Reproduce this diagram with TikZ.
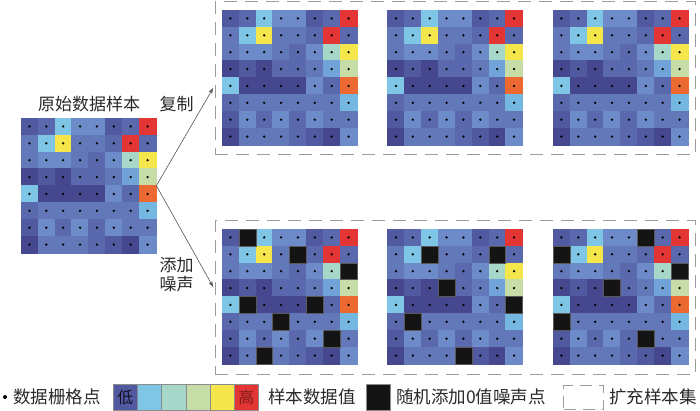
\documentclass[tikz,border=0pt]{standalone}
\usepackage{fontspec}
\setmainfont{Noto Sans CJK SC}
\usetikzlibrary{arrows.meta}
\definecolor{k1}{HTML}{46488F}
\definecolor{k2}{HTML}{5159A0}
\definecolor{k3}{HTML}{5A68AD}
\definecolor{k4}{HTML}{6378B8}
\definecolor{k5}{HTML}{6C8BC8}
\definecolor{k6}{HTML}{72A3D8}
\definecolor{kL}{HTML}{7EC5E6}
\definecolor{kM}{HTML}{74B8E2}
\definecolor{kT}{HTML}{A7D7C9}
\definecolor{kG}{HTML}{C6DDA7}
\definecolor{kY}{HTML}{F5E64B}
\definecolor{kO}{HTML}{EC6A32}
\definecolor{kR}{HTML}{E43535}
\definecolor{txt}{HTML}{2A2A2A}
\definecolor{dashc}{HTML}{9C9C9C}
\definecolor{arrc}{HTML}{555555}
\newcommand{\gridcells}{k2,k3,kL,k5,k5,k2,k3,kR,
k4,kL,kY,k4,k4,k3,kR,k3,
k4,k5,k5,k4,k3,k5,kT,kY,
k1,k2,k1,k3,k3,k4,k6,kG,
kL,k1,k1,k1,k1,k5,k3,kO,
k3,k4,k4,k4,k4,k4,k4,kM,
k2,k5,k3,k5,k3,k5,k4,k4,
k1,k4,k4,k4,k3,k2,k1,k5}
\newcommand{\drawgrid}[2]{%
  \foreach \cc [count=\n from 0] in \gridcells {%
    \pgfmathtruncatemacro\gr{div(\n,8)}%
    \pgfmathtruncatemacro\gc{mod(\n,8)}%
    \path[fill=\cc, draw=\cc, line width=0.3pt] ({#1+\gc*16.875},{#2+\gr*16.875}) rectangle ++(16.875,16.875);%
  }%
  \foreach \gr in {0,...,7}{\foreach \gc in {0,...,7}{%
    \fill[black] ({#1+(\gc+0.5)*16.875},{#2+(\gr+0.5)*16.875}) circle[radius=1.3];}}%
}
\newcommand{\drawnoise}[3]{%
  \foreach \bc/\br in {#3}{%
    \path[noisecell] ({#1+(\bc-1)*16.875},{#2+(\br-1)*16.875}) rectangle ++(16.875,16.875);}%
}
\tikzset{
  noisecell/.style={fill=black!92, draw=black!65, line width=0.5pt},
  gridnode/.style={minimum size=135, inner sep=0, anchor=north west},
  dbox/.style={draw=dashc, line width=1.2pt, dash pattern=on 13pt off 8pt, inner sep=0, anchor=north west},
  conn/.style={draw=arrc, line width=0.6pt, -{Stealth[length=6pt,width=4pt]}},
  lbl/.style={text=txt, inner sep=0, font=\fontsize{17}{20}\selectfont},
  leg/.style={text=txt, inner sep=0, anchor=west, font=\fontsize{17.5}{20}\selectfont},
  legcell/.style={minimum width=24.2, minimum height=26, inner sep=0, anchor=north west, draw=black!45, line width=0.4pt, font=\fontsize{16}{17}\selectfont}
}
\begin{document}
\begin{tikzpicture}[x=1pt,y=-1pt]
\useasboundingbox[fill=white] (0,0) rectangle (700,411);
% dashed boxes
\node[dbox, minimum width=480.3, minimum height=152.8] (topbox) at (214.7,1.2) {};
\node[dbox, minimum width=480.3, minimum height=154] (botbox) at (214.7,220) {};
% grid nodes
\node[gridnode] (orig) at (21,118) {};
\node[gridnode] (t1) at (222,10) {};
\node[gridnode] (t2) at (387.5,10) {};
\node[gridnode] (t3) at (553,10) {};
\node[gridnode] (b1) at (222,229) {};
\node[gridnode] (b2) at (387.5,229) {};
\node[gridnode] (b3) at (553,229) {};
\drawgrid{21}{118}
\drawgrid{222}{10}
\drawgrid{387.5}{10}
\drawgrid{553}{10}
\drawgrid{222}{229}
\drawgrid{387.5}{229}
\drawgrid{553}{229}
\drawnoise{222}{229}{2/1,5/2,8/3,2/5,6/5,4/6,7/7,3/8}
\drawnoise{387.5}{229}{3/2,7/2,4/4,8/5,2/6,5/8}
\drawnoise{553}{229}{6/1,1/2,8/3,4/4,1/6,6/7}
% labels
\node[lbl] (title) at (89,104) {原始数据样本};
\node[lbl] (copy) at (176.5,104) {复制};
\node[lbl] (add1) at (176.5,265) {添加};
\node[lbl] (add2) at (176.5,284) {噪声};
% connectors
\coordinate (tA) at (213.2,88);
\coordinate (tB) at (213.2,287);
\draw[conn] (orig.east) -- (tA);
\draw[conn] (orig.east) -- (tB);
% legend
\fill[black] (5,397) circle[radius=2];
\node[leg] (l1) at (13,397) {数据栅格点};
\node[legcell, fill=k2, text=black!75!k1] (c1) at (113,384) {低};
\node[legcell, fill=kL] (c2) at (137.2,384) {};
\node[legcell, fill=kT] (c3) at (161.4,384) {};
\node[legcell, fill=kG] (c4) at (185.6,384) {};
\node[legcell, fill=kY] (c5) at (209.8,384) {};
\node[legcell, fill=kR, text=black!45!kR] (c6) at (234,384) {高};
\node[leg] (l2) at (268,397) {样本数据值};
\node[legcell, minimum width=24, fill=black!92] (sq) at (366,384) {};
\node[leg] (l3) at (396,397) {随机添加0值噪声点};
\node[dbox, minimum width=40, minimum height=24, line width=1pt, dash pattern=on 12pt off 7pt] (lb) at (563,385) {};
\node[leg] (l4) at (609,397) {扩充样本集};
\end{tikzpicture}
\end{document}
